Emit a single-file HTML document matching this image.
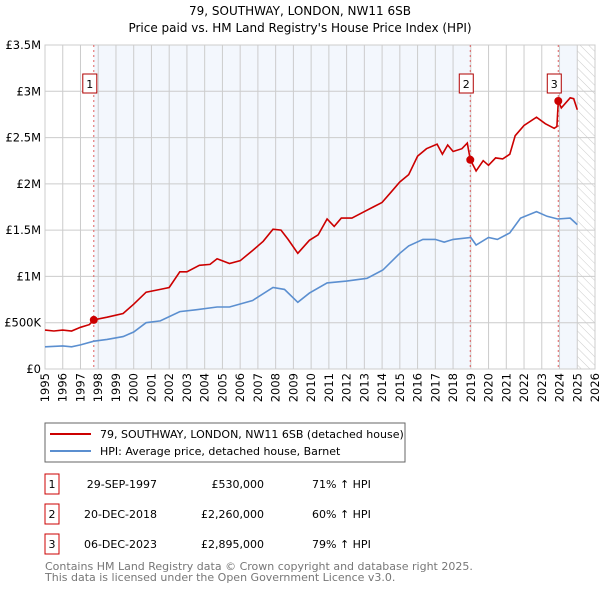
<!DOCTYPE html>
<html><head><meta charset="utf-8"><style>
body{margin:0;background:#fff;font-family:"DejaVu Sans","Liberation Sans",sans-serif;}
svg text{font-family:"DejaVu Sans","Liberation Sans",sans-serif;}
</style></head><body>
<svg id="chart" width="600" height="590">
<defs><pattern id="hatch" width="6" height="6" patternUnits="userSpaceOnUse" patternTransform="rotate(-45)"><line x1="0" y1="0" x2="0" y2="6" stroke="#ccc" stroke-width="1"/></pattern></defs>
<text x="300" y="15" text-anchor="middle" font-size="12">79, SOUTHWAY, LONDON, NW11 6SB</text>
<text x="300" y="32" text-anchor="middle" font-size="12">Price paid vs. HM Land Registry's House Price Index (HPI)</text>
<g id="plot"></g>
<rect x="45" y="423" width="360" height="39" fill="#fff" stroke="#666"/>
<line x1="50" y1="434" x2="91" y2="434" stroke="#cc0000" stroke-width="2"/>
<text x="100" y="438" font-size="11">79, SOUTHWAY, LONDON, NW11 6SB (detached house)</text>
<line x1="50" y1="451" x2="91" y2="451" stroke="#5b8fd0" stroke-width="2"/>
<text x="100" y="455" font-size="11">HPI: Average price, detached house, Barnet</text>
<g id="table" font-size="11"></g>
<text x="45" y="570" font-size="11" fill="#777">Contains HM Land Registry data © Crown copyright and database right 2025.</text>
<text x="45" y="581" font-size="11" fill="#777">This data is licensed under the Open Government Licence v3.0.</text>
</svg>
<script>
const yearTicks=[1995,1996,1997,1998,1999,2000,2001,2002,2003,2004,2005,2006,2007,2008,2009,2010,2011,2012,2013,2014,2015,2016,2017,2018,2019,2020,2021,2022,2023,2024,2025,2026];
const valueTicks=[0,0.5,1,1.5,2,2.5,3,3.5];
const valueTickLabels=["£0","£500K","£1M","£1.5M","£2M","£2.5M","£3M","£3.5M"];
const propYears=[1995,1995.5,1996,1996.5,1997,1997.5,1997.75,1998.5,1999.4,2000,2000.7,2001.5,2002,2002.6,2003,2003.7,2004.3,2004.7,2005.4,2006,2006.7,2007.3,2007.85,2008.3,2008.7,2009.25,2009.9,2010.4,2010.9,2011.3,2011.7,2012.3,2013,2013.5,2014,2014.5,2015,2015.5,2016,2016.5,2017.1,2017.4,2017.7,2018,2018.5,2018.8,2018.97,2019.3,2019.7,2020,2020.4,2020.8,2021.2,2021.5,2022,2022.7,2023.2,2023.7,2023.85,2023.93,2024.1,2024.6,2024.8,2025];
const propValues=[0.42,0.41,0.42,0.41,0.45,0.48,0.53,0.56,0.60,0.70,0.83,0.86,0.88,1.05,1.05,1.12,1.13,1.19,1.14,1.17,1.28,1.38,1.51,1.50,1.40,1.25,1.39,1.45,1.62,1.54,1.63,1.63,1.70,1.75,1.80,1.91,2.02,2.10,2.30,2.38,2.43,2.32,2.42,2.35,2.38,2.44,2.26,2.14,2.25,2.20,2.28,2.27,2.32,2.52,2.63,2.72,2.65,2.60,2.62,2.895,2.82,2.93,2.92,2.80];
const hpiYears=[1995,1996,1996.5,1997,1997.75,1998.5,1999.4,2000,2000.7,2001.5,2002.6,2003.5,2004.7,2005.4,2006.7,2007.85,2008.5,2009.25,2009.9,2010.9,2012,2013.15,2014.05,2015,2015.5,2016.3,2017,2017.5,2018,2019,2019.3,2020,2020.5,2021.2,2021.8,2022.7,2023.3,2023.9,2024.6,2025];
const hpiValues=[0.24,0.25,0.24,0.26,0.30,0.32,0.35,0.40,0.50,0.52,0.62,0.64,0.67,0.67,0.74,0.88,0.86,0.72,0.82,0.93,0.95,0.98,1.07,1.25,1.33,1.40,1.40,1.37,1.40,1.42,1.34,1.42,1.40,1.47,1.63,1.70,1.65,1.62,1.63,1.56];
const saleLabels=["1","2","3"];
const saleYears=[1997.75,2018.97,2023.93];
const saleValues=[0.53,2.26,2.895];
const saleDates=["29-SEP-1997","20-DEC-2018","06-DEC-2023"];
const salePrices=["£530,000","£2,260,000","£2,895,000"];
const saleHpi=["71% ↑ HPI","60% ↑ HPI","79% ↑ HPI"];

const X0=45,X1=595,Y0=369,Y1=45;
const sx=y=>X0+(y-1995)*(X1-X0)/31;
const sy=v=>Y0-(v/3.5)*(Y0-Y1);
const NS="http://www.w3.org/2000/svg";
const plot=document.getElementById('plot');
function mk(tag,attrs,parent){const e=document.createElementNS(NS,tag);for(const k in attrs)e.setAttribute(k,attrs[k]);(parent||plot).appendChild(e);return e;}

let e;
e=mk('rect',{x:sx(saleYears[0]),y:Y1,width:sx(saleYears[1])-sx(saleYears[0]),height:Y0-Y1,fill:'#eef3fc',opacity:0.7});


e=mk('rect',{x:sx(saleYears[2]),y:Y1,width:sx(2025)-sx(saleYears[2]),height:Y0-Y1,fill:'#eef3fc',opacity:0.7});


e=mk('rect',{x:sx(2025),y:Y1,width:X1-sx(2025),height:Y0-Y1,fill:'url(#hatch)'});



yearTicks.forEach(y=>{
  e=mk('line',{x1:sx(y),y1:Y1,x2:sx(y),y2:Y0,stroke:'#ccc','stroke-width':1});
  
  
  const tx=sx(y)+4, ty=Y0+4;
  e=mk('text',{x:tx,y:ty,'text-anchor':'end','font-size':11.5,transform:`rotate(-90 ${tx} ${ty})`});
  e.textContent=y;
  
  
});
valueTicks.forEach((v,i)=>{
  e=mk('line',{x1:X0,y1:sy(v),x2:X1,y2:sy(v),stroke:'#ccc','stroke-width':1});
  
  
  e=mk('text',{x:X0-4,y:sy(v)+4,'text-anchor':'end','font-size':11.5});
  e.textContent=valueTickLabels[i];
  
  
});
e=mk('rect',{x:X0,y:Y1,width:X1-X0,height:Y0-Y1,fill:'none',stroke:'#ccc'});



saleYears.forEach((y,i)=>{
  e=mk('line',{x1:sx(y),y1:Y1,x2:sx(y),y2:Y0,stroke:'#e06060','stroke-dasharray':'2,3','stroke-width':1});
  
  
});

function pts(xs,vs){return xs.map((y,i)=>sx(y).toFixed(1)+','+sy(vs[i]).toFixed(1)).join(' ');}
e=mk('polyline',{points:pts(hpiYears,hpiValues),fill:'none',stroke:'#5b8fd0','stroke-width':1.6});


e=mk('polyline',{points:pts(propYears,propValues),fill:'none',stroke:'#cc0000','stroke-width':1.6});



saleYears.forEach((y,i)=>{
  e=mk('circle',{cx:sx(y),cy:sy(saleValues[i]),r:4,fill:'#cc0000'});
  
  
  const bx=sx(y)-4;
  e=mk('rect',{x:bx-7,y:74,width:14,height:19,fill:'#fff',stroke:'#b00000'});
  
  
  e=mk('text',{x:bx,y:88,'text-anchor':'middle','font-size':11});
  e.textContent=saleLabels[i];
  
  
});

const tbl=document.getElementById('table');
saleLabels.forEach((l,i)=>{
  const cy=483+i*30;
  e=mk('rect',{x:45,y:cy-9,width:14,height:20,fill:'#fff',stroke:'#cc0000'},tbl);
  
  
  e=mk('text',{x:52,y:cy+5,'text-anchor':'middle'},tbl);e.textContent=l;
  
  
  e=mk('text',{x:157,y:cy+5,'text-anchor':'end'},tbl);e.textContent=saleDates[i];
  
  
  e=mk('text',{x:264,y:cy+5,'text-anchor':'end'},tbl);e.textContent=salePrices[i];
  
  
  e=mk('text',{x:312,y:cy+5},tbl);e.textContent=saleHpi[i];
  
  
});
</script>
</body></html>
